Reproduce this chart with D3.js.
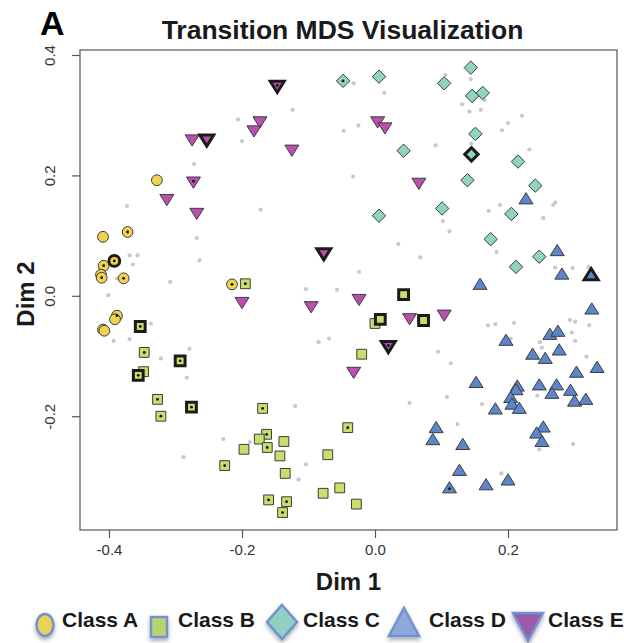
<!DOCTYPE html>
<html>
<head>
<meta charset="utf-8">
<script src="https://cdn.jsdelivr.net/npm/d3@7"></script>
<style>
  body { margin: 0; background: #fff; }
  svg { display: block; font-family: "Liberation Sans", Arial, sans-serif; }
</style>
</head>
<body>
<svg id="chart" width="624" height="643"></svg>
<script>
// values; flag: 0 plain, 1 centre dot, 2 thick border, 3 both
const classA = [[-0.328,0.192,0],[-0.372,0.106,1],[-0.409,0.098,0],[-0.392,0.058,3],[-0.408,0.050,1],
  [-0.412,0.035,0],[-0.411,0.030,1],[-0.378,0.029,1],[-0.215,0.019,1],[-0.388,-0.033,1],
  [-0.391,-0.039,0],[-0.409,-0.056,0],[-0.407,-0.058,0]];
const classB = [[-0.195,0.020,1],[-0.353,-0.051,3],[-0.347,-0.094,1],[-0.293,-0.108,3],[-0.348,-0.126,0],
  [-0.356,-0.132,3],[-0.327,-0.172,1],[-0.276,-0.185,3],[-0.322,-0.200,1],[-0.169,-0.187,1],
  [-0.163,-0.230,1],[-0.174,-0.238,0],[-0.162,-0.252,1],[-0.197,-0.255,0],[-0.226,-0.282,1],
  [-0.160,-0.339,1],[-0.041,-0.219,1],[-0.137,-0.242,0],[-0.143,-0.266,0],[-0.071,-0.264,0],
  [-0.135,-0.295,0],[-0.078,-0.328,0],[-0.053,-0.319,0],[-0.028,-0.346,0],[-0.133,-0.342,1],
  [-0.139,-0.360,1],[0.000,-0.046,0],[0.043,0.002,2],[0.008,-0.039,2],[0.073,-0.041,2],[-0.020,-0.097,0]];
const classC = [[-0.048,0.357,1],[0.006,0.364,0],[0.104,0.353,0],[0.144,0.379,0],[0.146,0.332,0],
  [0.162,0.337,0],[0.151,0.269,0],[0.145,0.235,2],[0.043,0.241,0],[0.215,0.223,0],[0.139,0.192,0],
  [0.241,0.183,0],[0.101,0.145,0],[0.205,0.136,0],[0.006,0.133,0],[0.174,0.094,0],[0.212,0.048,0],
  [0.247,0.065,0]];
const classD = [[0.227,0.162,0],[0.274,0.076,0],[0.281,0.037,0],[0.325,0.036,2],[0.158,0.020,0],
  [0.326,-0.021,0],[0.263,-0.063,0],[0.275,-0.058,0],[0.197,-0.073,0],[0.277,-0.089,0],
  [0.237,-0.096,0],[0.256,-0.103,0],[0.303,-0.126,0],[0.334,-0.118,0],[0.152,-0.143,0],
  [0.214,-0.149,0],[0.212,-0.155,0],[0.247,-0.147,0],[0.273,-0.147,0],[0.266,-0.161,0],
  [0.294,-0.156,0],[0.300,-0.174,0],[0.317,-0.171,0],[0.204,-0.168,0],[0.206,-0.179,0],
  [0.217,-0.186,0],[0.181,-0.187,0],[0.092,-0.218,0],[0.087,-0.238,0],[0.132,-0.246,0],
  [0.253,-0.217,0],[0.243,-0.227,0],[0.251,-0.241,0],[0.127,-0.289,0],[0.167,-0.313,0],
  [0.200,-0.305,0],[0.112,-0.318,1]];
const classE = [[-0.147,0.347,3],[-0.173,0.288,0],[-0.182,0.273,0],[-0.275,0.258,0],[-0.253,0.258,2],
  [-0.273,0.188,1],[-0.313,0.159,0],[-0.268,0.136,0],[-0.125,0.241,0],[0.004,0.288,0],
  [0.015,0.278,0],[0.066,0.186,0],[-0.077,0.069,2],[-0.200,-0.012,0],[-0.024,-0.007,0],
  [-0.096,-0.019,0],[0.052,-0.039,0],[0.104,-0.033,0],[0.020,-0.085,3],[-0.032,-0.128,0]];
const background = [[-0.206,0.293],[-0.180,0.296],[-0.200,0.257],[-0.272,0.219],[-0.373,0.149],
  [-0.172,0.143],[-0.268,0.096],[-0.032,0.353],[0.014,0.337],[0.106,0.367],[-0.124,0.309],
  [-0.047,0.274],[-0.025,0.283],[0.091,0.250],[-0.033,0.198],[0.102,0.124],[0.112,0.107],
  [0.144,0.360],[0.165,0.325],[0.131,0.318],[0.142,0.306],[0.159,0.309],[0.221,0.299],
  [0.200,0.287],[0.191,0.275],[0.145,0.253],[0.232,0.243],[0.188,0.151],[0.171,0.141],
  [0.271,0.155],[0.268,0.151],[0.253,0.129],[0.183,0.073],[0.271,0.047],[0.297,0.046],
  [0.321,0.048],[0.170,-0.049],[0.181,-0.047],[0.209,-0.045],[0.293,-0.040],[0.301,-0.043],
  [0.322,-0.049],[0.296,-0.061],[0.301,-0.075],[0.204,-0.071],[0.248,-0.077],[0.251,-0.086],
  [0.318,-0.101],[0.114,-0.112],[0.108,-0.168],[0.161,-0.180],[0.244,-0.166],[0.124,-0.213],
  [0.247,-0.255],[0.298,-0.246],[0.190,-0.295],[0.052,-0.178],[-0.120,-0.183],[-0.104,-0.280],
  [-0.115,-0.305],[-0.228,-0.238],[-0.188,-0.243],[-0.288,-0.268],[-0.369,0.067],[-0.357,0.067],
  [-0.364,0.052],[-0.388,0.029],[-0.264,0.059],[-0.308,0.023],[-0.401,0.001],[-0.337,-0.046],
  [-0.369,-0.072],[-0.393,-0.075],[-0.322,-0.104],[-0.279,-0.088],[-0.283,-0.136],[0.035,0.086],
  [0.068,0.064],[-0.024,0.040],[-0.104,0.011],[-0.057,0.010],[-0.085,-0.077],[-0.069,-0.071],
  [0.095,-0.093]];
const classNames = ["Class A", "Class B", "Class C", "Class D", "Class E"];
const xTicks = [-0.4, -0.2, 0.0, 0.2];
const yTicks = [-0.2, 0.0, 0.2, 0.4];

const svg = d3.select('#chart');
const L = 80, R = 617, T = 50, B = 530;

const x = d3.scaleLinear().domain([-0.4436, 0.3639]).range([L, R]);
const y = d3.scaleLinear().domain([-0.389, 0.4083]).range([B, T]);

// marker shapes, centred on their bounding box
const shapes = {
  circle: s => `M${s},0A${s},${s} 0 1,1 ${-s},0A${s},${s} 0 1,1 ${s},0Z`,
  square: s => `M${-s},${-s}H${s}V${s}H${-s}Z`,
  diamond: s => `M0,${-s}L${s},0L0,${s}L${-s},0Z`,
  up: s => `M0,${-s * 0.8}L${s},${s * 0.8}L${-s},${s * 0.8}Z`,
  down: s => `M0,${s * 0.8}L${s},${-s * 0.8}L${-s},${-s * 0.8}Z`
};

const series = [
  { data: classA, shape: 'circle', size: 5.4, fill: '#f1d24e', lfill: '#e9d255' },
  { data: classB, shape: 'square', size: 4.9, fill: '#c6df6c', lfill: '#b8d46d' },
  { data: classC, shape: 'diamond', size: 6.7, fill: '#8fd6b6', lfill: '#8fd0c1' },
  { data: classD, shape: 'up', size: 7.0, fill: '#5b86c9', lfill: '#8da8d9' },
  { data: classE, shape: 'down', size: 7.0, fill: '#b94fae', lfill: '#9d5aa9' }
];

// plot box
svg.append('rect')
  .attr('x', L).attr('y', T).attr('width', R - L).attr('height', B - T)
  .attr('fill', 'none').attr('stroke', '#555').attr('stroke-width', 1.2);

// axes
const xAxis = svg.append('g').attr('transform', `translate(0,${B})`)
  .call(d3.axisBottom(x).tickValues(xTicks).tickSize(8).tickPadding(6).tickFormat(d3.format('.1f')));
const yAxis = svg.append('g').attr('transform', `translate(${L},0)`)
  .call(d3.axisLeft(y).tickValues(yTicks).tickSize(8).tickPadding(6).tickFormat(d3.format('.1f')));
[xAxis, yAxis].forEach(a => {
  a.select('.domain').remove();
  a.selectAll('line').attr('stroke', '#555').attr('stroke-width', 1.2);
  a.selectAll('text').attr('font-size', 15).attr('fill', '#333')
    .attr('font-family', '"Liberation Sans", Arial, sans-serif');
});
xAxis.selectAll('text').text(d => d3.format('.1f')(d).replace('−', '-'));
yAxis.selectAll('text').text(d => d3.format('.1f')(d).replace('−', '-'))
  .attr('text-anchor', 'middle').attr('dy', 0).attr('x', 0)
  .attr('transform', d => `translate(-25,0) rotate(-90)`);

// background points
svg.append('g').selectAll('circle').data(background).join('circle')
  .attr('cx', d => x(d[0])).attr('cy', d => y(d[1])).attr('r', 2.1)
  .attr('fill', '#c9c9cc');

// class points
series.forEach(s => {
  const g = svg.append('g');
  const pts = s.data.slice().sort((a, b) => (a[2] >= 2) - (b[2] >= 2));
  g.selectAll('path').data(pts).join('path')
    .attr('transform', d => `translate(${x(d[0])},${y(d[1])})`)
    .attr('d', shapes[s.shape](s.size))
    .attr('fill', s.fill)
    .attr('stroke', d => d[2] >= 2 ? '#1b1b1b' : '#3d3d3d')
    .attr('stroke-width', d => d[2] >= 2 ? 3 : 1)
    .attr('stroke-linejoin', 'miter');
  g.selectAll('circle').data(pts.filter(d => d[2] % 2 === 1)).join('circle')
    .attr('cx', d => x(d[0])).attr('cy', d => y(d[1]) + (s.shape === 'down' ? -1.5 : s.shape === 'up' ? 1.5 : 0))
    .attr('r', 1.4).attr('fill', '#111');
});

// titles
svg.append('text').attr('x', 40).attr('y', 35).attr('font-size', 34).attr('font-weight', 'bold')
  .text('A');
svg.append('text').attr('x', (L + R) / 2 - 6).attr('y', 39).attr('text-anchor', 'middle')
  .attr('font-size', 26.5).attr('font-weight', 'bold').attr('fill', '#1a1a1a')
  .text('Transition MDS Visualization');
svg.append('text').attr('x', (L + R) / 2).attr('y', 590).attr('text-anchor', 'middle')
  .attr('font-size', 24).attr('font-weight', 'bold').attr('fill', '#1a1a1a').text('Dim 1');
svg.append('text').attr('transform', `translate(34,${(T + B) / 2 + 4}) rotate(-90)`)
  .attr('text-anchor', 'middle').attr('font-size', 24).attr('font-weight', 'bold')
  .attr('fill', '#1a1a1a').text('Dim 2');

// legend
const defs = svg.append('defs');
const f = defs.append('filter').attr('id', 'shadow').attr('x', '-50%').attr('y', '-50%')
  .attr('width', '200%').attr('height', '200%');
f.append('feDropShadow').attr('dx', 0).attr('dy', 2.5).attr('stdDeviation', 2)
  .attr('flood-color', '#000').attr('flood-opacity', 0.35);

const legendIcon = [45, 159, 282, 404, 528];
const legendText = [62, 178, 303, 429, 548];
const legendShape = {
  circle: `M0,-11A8.5,11 0 1,1 0,11A8.5,11 0 1,1 0,-11Z`,
  square: `M-8,-10H8V10H-8Z`,
  diamond: `M0,-17L15,0L0,17L-15,0Z`,
  up: `M0,-15L15,13L-15,13Z`,
  down: `M0,15L15,-13L-15,-13Z`
};
const legendY = [625, 627, 622, 623, 626];
const lg = svg.append('g');
series.forEach((s, i) => {
  lg.append('path').attr('transform', `translate(${legendIcon[i]},${legendY[i]})`)
    .attr('d', legendShape[s.shape]).attr('fill', s.lfill)
    .attr('stroke', '#6f93cf').attr('stroke-width', 2.5).attr('filter', 'url(#shadow)');
  lg.append('text').attr('x', legendText[i]).attr('y', 627)
    .attr('font-size', 21).attr('font-weight', 'bold').attr('fill', '#1a1a1a')
    .text(classNames[i]);
});
</script>
</body>
</html>
